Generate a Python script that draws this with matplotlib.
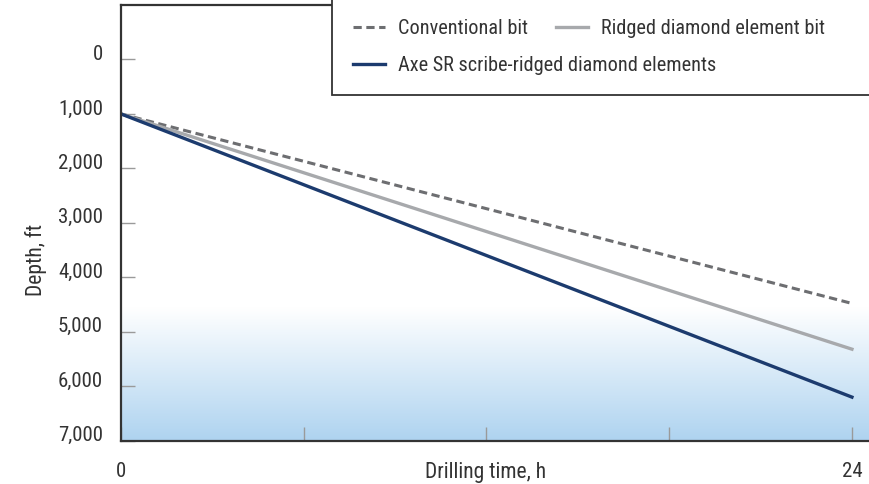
import matplotlib
matplotlib.use('Agg')
import matplotlib.pyplot as plt
import matplotlib.transforms as mtransforms
from matplotlib.colors import LinearSegmentedColormap
from matplotlib.patches import Rectangle
import numpy as np

plt.rcParams['font.family'] = ['Roboto Condensed', 'DejaVu Sans']

# data: depth (ft) against drilling time (h)
hours = [0, 24]
conventional = [1000, 4480]
ridged = [1000, 5320]
axe_sr = [1000, 6200]

y_ticks = [0, 1000, 2000, 3000, 4000, 5000, 6000, 7000]
y_labels = ['0', '1,000', '2,000', '3,000', '4,000', '5,000', '6,000', '7,000']
x_ticks = [0, 6, 12, 18, 24]
x_labels = ['0', '', '', '', '24']

fig = plt.figure(figsize=(8.69, 4.84), dpi=100)
ax = fig.add_axes([0.1392, 0.0895, 0.8608, 0.9002])

ax.set_xlim(0, 24.56)
ax.set_ylim(7000, -1000)

# light blue fade towards the bottom
cmap = LinearSegmentedColormap.from_list('fade', ['#ffffff', '#aed3f0'])
grad = np.linspace(0, 1, 256).reshape(-1, 1)
ax.imshow(grad, cmap=cmap, aspect='auto', extent=[0, 24.56, 7000, 4550],
          origin='upper', zorder=0)

ax.plot(hours, conventional, color='#6d6e71', lw=2.2, dashes=(2.7, 1.5),
        label='Conventional bit', zorder=3)
ax.plot(hours, ridged, color='#a7a9ac', lw=2.4, label='Ridged diamond element bit', zorder=3)
ax.plot(hours, axe_sr, color='#1c3b6e', lw=2.4,
        label='Axe SR scribe-ridged diamond elements', zorder=4)

ax.spines['right'].set_visible(False)
for s in ['left', 'bottom', 'top']:
    ax.spines[s].set_linewidth(1.6)
    ax.spines[s].set_color('#333333')
    ax.spines[s].set_zorder(5)

ax.set_yticks(y_ticks)
ax.set_yticklabels(y_labels)
ax.set_xticks(x_ticks)
ax.set_xticklabels(x_labels)
ax.tick_params(axis='both', direction='in', length=10, width=1, color='#9a9a9a',
               labelsize=15, labelcolor='#333333')
ax.tick_params(axis='y', pad=13)
ax.tick_params(axis='x', pad=15)

shift = mtransforms.ScaledTranslation(0, 7 / 100, fig.dpi_scale_trans)
for lab in ax.get_yticklabels():
    lab.set_transform(lab.get_transform() + shift)

ax.set_xlabel('Drilling time, h', fontsize=15.5, color='#333333')
ax.xaxis.label.set_va('center')
ax.xaxis.set_label_coords(0.488, -0.072)
ax.set_ylabel('Depth, ft', fontsize=15.5, color='#333333')
ax.yaxis.label.set_va('center')
ax.yaxis.set_label_coords(-0.114, 0.415)

# legend box in the upper right corner
ax.add_patch(Rectangle((0.282, 0.7934), 0.8, 0.4, transform=ax.transAxes,
                       facecolor='white', edgecolor='#333333', lw=1.3,
                       clip_on=False, zorder=6))
h = ax.get_lines()
leg1 = ax.legend(handles=[h[0], h[1]], ncol=2, loc='center left',
                 bbox_to_anchor=(0.31, 0.946), frameon=False, fontsize=14.6,
                 handlelength=1.6, handletextpad=0.65, columnspacing=1.35,
                 borderaxespad=0, borderpad=0, labelcolor='#333333')
leg1.set_zorder(7)
ax.add_artist(leg1)
leg2 = ax.legend(handles=[h[2]], loc='center left', bbox_to_anchor=(0.31, 0.86),
                 frameon=False, fontsize=14.6, handlelength=1.6, handletextpad=0.65,
                 borderaxespad=0, borderpad=0, labelcolor='#333333')
leg2.set_zorder(7)

fig.savefig('out.png', dpi=100)
